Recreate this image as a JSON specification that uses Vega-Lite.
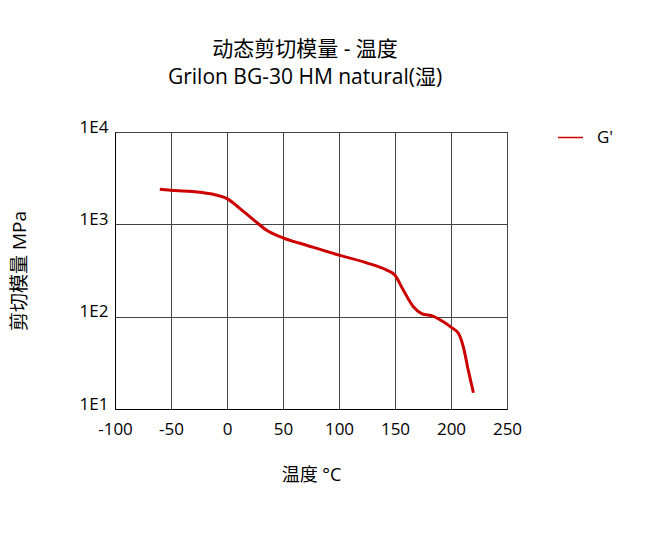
{
  "$schema": "https://vega.github.io/schema/vega-lite/v6.json",
  "autosize": "none",
  "width": 392,
  "height": 277,
  "padding": {"left": 115, "top": 132, "right": 153, "bottom": 130},
  "background": "white",
  "config": {
    "font": "Open Sans, Noto Sans CJK SC",
    "view": {"stroke": "#000000", "strokeWidth": 1}
  },
  "title": {
    "text": "动态剪切模量 - 温度",
    "subtitle": "Grilon BG-30 HM natural(湿)",
    "anchor": "middle",
    "fontSize": 21,
    "fontWeight": "normal",
    "subtitleFontSize": 21,
    "subtitleFont": "Open Sans, Noto Sans CJK SC",
    "color": "#000000",
    "subtitleColor": "#000000",
    "subtitlePadding": 7,
    "offset": 30,
    "dx": -6
  },
  "data": {
    "values": [
      {"temp": -60, "G": 2399, "series": "G'"},
      {"temp": -50, "G": 2339, "series": "G'"},
      {"temp": -24, "G": 2223, "series": "G'"},
      {"temp": -9, "G": 2065, "series": "G'"},
      {"temp": 0, "G": 1901, "series": "G'"},
      {"temp": 11.6, "G": 1482, "series": "G'"},
      {"temp": 23.5, "G": 1127, "series": "G'"},
      {"temp": 35.4, "G": 863, "series": "G'"},
      {"temp": 50, "G": 713, "series": "G'"},
      {"temp": 71, "G": 594, "series": "G'"},
      {"temp": 100, "G": 464, "series": "G'"},
      {"temp": 124.7, "G": 383, "series": "G'"},
      {"temp": 142.6, "G": 319, "series": "G'"},
      {"temp": 150, "G": 281, "series": "G'"},
      {"temp": 157.4, "G": 194, "series": "G'"},
      {"temp": 166.4, "G": 128, "series": "G'"},
      {"temp": 173.8, "G": 108, "series": "G'"},
      {"temp": 184.3, "G": 101, "series": "G'"},
      {"temp": 193.2, "G": 88, "series": "G'"},
      {"temp": 200.6, "G": 76, "series": "G'"},
      {"temp": 206.6, "G": 66, "series": "G'"},
      {"temp": 211, "G": 47, "series": "G'"},
      {"temp": 215.5, "G": 26, "series": "G'"},
      {"temp": 220, "G": 15, "series": "G'"}
    ]
  },
  "mark": {"type": "line", "interpolate": "monotone", "strokeWidth": 3},
  "encoding": {
    "x": {
      "field": "temp",
      "type": "quantitative",
      "scale": {"domain": [-100, 250], "nice": false, "zero": false},
      "axis": {
        "title": "温度 °C",
        "values": [-100, -50, 0, 50, 100, 150, 200, 250],
        "labelExpr": "datum.value < 0 ? '-' + abs(datum.value) : '' + datum.value",
        "grid": true,
        "gridColor": "#444444",
        "gridOpacity": 1,
        "ticks": false,
        "domainColor": "#000000",
        "labelFontSize": 17,
        "labelColor": "#000000",
        "labelPadding": 12,
        "labelFlush": false,
        "titleFontSize": 18,
        "titleFontWeight": "normal",
        "titleColor": "#000000",
        "titlePadding": 29
      }
    },
    "y": {
      "field": "G",
      "type": "quantitative",
      "scale": {"type": "log", "domain": [10, 10000], "nice": false},
      "axis": {
        "title": "剪切模量 MPa",
        "values": [10, 100, 1000, 10000],
        "labelExpr": "'1E' + round(log(datum.value) / LN10)",
        "grid": true,
        "gridColor": "#444444",
        "gridOpacity": 1,
        "ticks": false,
        "domainColor": "#000000",
        "labelFontSize": 17,
        "labelColor": "#000000",
        "labelPadding": 7,
        "labelBaseline": "alphabetic",
        "labelFlush": false,
        "titleFontSize": 19,
        "titleFontWeight": "normal",
        "titleColor": "#000000",
        "titlePadding": 50
      }
    },
    "color": {
      "field": "series",
      "type": "nominal",
      "scale": {"domain": ["G'"], "range": ["#cc0000"]},
      "legend": {
        "title": null,
        "orient": "none",
        "legendX": 442,
        "legendY": -8,
        "padding": 0,
        "symbolType": "stroke",
        "symbolSize": 625,
        "symbolStrokeWidth": 1.5,
        "labelFontSize": 17,
        "labelColor": "#000000",
        "labelOffset": 13
      }
    }
  }
}
